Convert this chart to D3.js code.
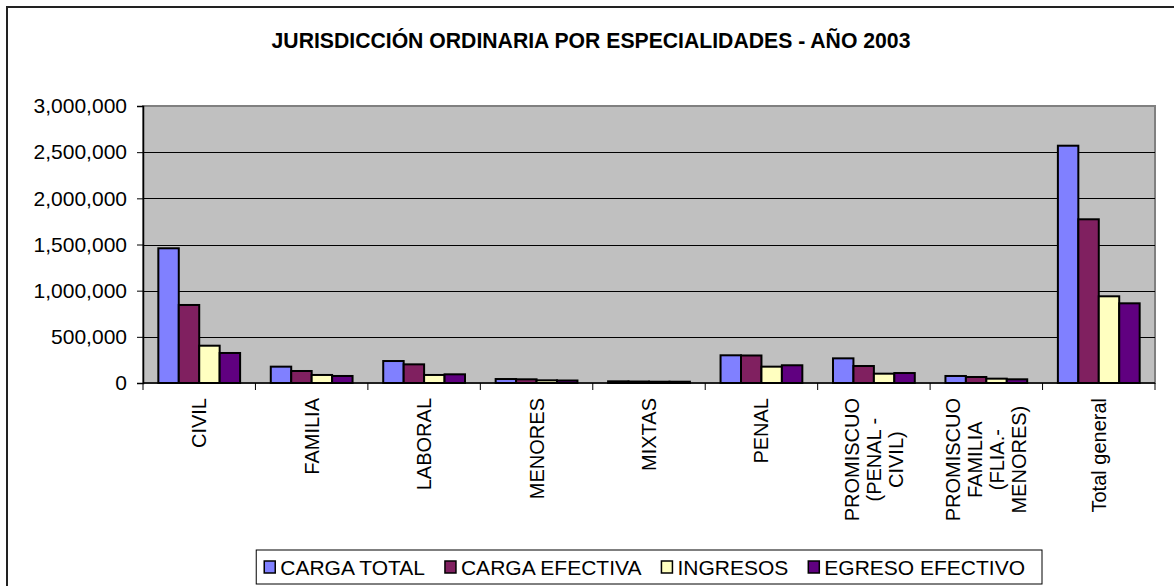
<!DOCTYPE html>
<html>
<head>
<meta charset="utf-8">
<script src="https://cdn.jsdelivr.net/npm/d3@7"></script>
<style>
  body { margin: 0; background: #fff; }
  svg { display: block; font-family: "Liberation Sans", Arial, sans-serif; }
</style>
</head>
<body>
<div id="chart"></div>
<script>
// data
const categories = ["CIVIL", "FAMILIA", "LABORAL", "MENORES", "MIXTAS", "PENAL",
  "PROMISCUO (PENAL - CIVIL)", "PROMISCUO FAMILIA (FLIA.- MENORES)", "Total general"];
const categoryLines = [["CIVIL"], ["FAMILIA"], ["LABORAL"], ["MENORES"], ["MIXTAS"], ["PENAL"],
  ["PROMISCUO", "(PENAL -", "CIVIL)"], ["PROMISCUO", "FAMILIA", "(FLIA.-", "MENORES)"], ["Total general"]];
const seriesNames = ["CARGA TOTAL", "CARGA EFECTIVA", "INGRESOS", "EGRESO EFECTIVO"];
const seriesColors = ["#8080FF", "#802060", "#FFFFC0", "#600080"];
const cargaTotal = [1459000, 177000, 238000, 43000, 18000, 300000, 267000, 76000, 2570000];
const cargaEfectiva = [845000, 130000, 202000, 40000, 16000, 298000, 184000, 65000, 1773000];
const ingresos = [404000, 87000, 87000, 29000, 14000, 177000, 101000, 47000, 939000];
const egresoEfectivo = [325000, 76000, 94000, 27000, 14000, 192000, 108000, 40000, 863000];
const yTicks = [0, 500000, 1000000, 1500000, 2000000, 2500000, 3000000];

const seriesValues = [cargaTotal, cargaEfectiva, ingresos, egresoEfectivo];

const width = 1174, height = 586;
const plot = { left: 143, right: 1155, top: 106, bottom: 383 };

const svg = d3.select("#chart").append("svg")
  .attr("width", width)
  .attr("height", height);

// outer chart frame (runs off the right and bottom edges)
svg.append("rect")
  .attr("x", 7).attr("y", 7)
  .attr("width", 1300).attr("height", 700)
  .attr("fill", "#fff")
  .attr("stroke", "#222")
  .attr("stroke-width", 2);

// title
svg.append("text")
  .attr("x", 591).attr("y", 48)
  .attr("text-anchor", "middle")
  .style("font-weight", "bold")
  .style("font-size", "21.2px")
  .text("JURISDICCIÓN ORDINARIA POR ESPECIALIDADES - AÑO 2003");

const x = d3.scaleBand()
  .domain(categories)
  .range([plot.left, plot.right]);

const x1 = d3.scaleBand()
  .domain(seriesNames)
  .range([0, x.bandwidth()])
  .paddingInner(0)
  .paddingOuter(0.75);

const y = d3.scaleLinear()
  .domain([0, 3000000])
  .range([plot.bottom, plot.top]);

// plot area
svg.append("rect")
  .attr("x", plot.left).attr("y", plot.top)
  .attr("width", plot.right - plot.left)
  .attr("height", plot.bottom - plot.top)
  .attr("fill", "#C0C0C0")
  .attr("stroke", "#808080")
  .attr("stroke-width", 2);

// gridlines
svg.append("g")
  .selectAll("line")
  .data(yTicks.filter(d => d > 0 && d < 3000000))
  .enter()
  .append("line")
  .attr("x1", plot.left).attr("x2", plot.right)
  .attr("y1", d => Math.round(y(d)) + 0.5)
  .attr("y2", d => Math.round(y(d)) + 0.5)
  .attr("stroke", "#000")
  .attr("stroke-width", 1);

// bars
const rows = categories.map((c, i) => ({ cat: c, vals: seriesValues.map(s => s[i]) }));
const groups = svg.append("g")
  .selectAll("g")
  .data(rows)
  .enter()
  .append("g")
  .attr("transform", d => "translate(" + x(d.cat) + ",0)");

groups.selectAll("rect")
  .data(d => d.vals.map((v, k) => ({ key: seriesNames[k], value: v, color: seriesColors[k] })))
  .enter()
  .append("rect")
  .attr("x", d => x1(d.key))
  .attr("y", d => y(d.value))
  .attr("width", x1.bandwidth())
  .attr("height", d => y(0) - y(d.value))
  .attr("fill", d => d.color)
  .attr("stroke", "#000")
  .attr("stroke-width", 2);

// y axis
const yAxis = d3.axisLeft(y)
  .tickValues(yTicks)
  .tickFormat(d3.format(","))
  .tickSize(6)
  .tickPadding(10);
const yg = svg.append("g")
  .attr("transform", "translate(" + plot.left + ",0)")
  .call(yAxis);
yg.select(".domain").attr("stroke", "#000").attr("stroke-width", 1.5);
yg.selectAll(".tick line").attr("stroke", "#000");
yg.selectAll(".tick text")
  .attr("fill", "#000")
  .style("font-size", "21px")
  .style("font-family", "'Liberation Sans', Arial, sans-serif");

// x axis (ticks between categories)
const xg = svg.append("g");
xg.append("line")
  .attr("x1", plot.left).attr("x2", plot.right)
  .attr("y1", plot.bottom).attr("y2", plot.bottom)
  .attr("stroke", "#000").attr("stroke-width", 1.5);
xg.selectAll(".xtick")
  .data(categories.concat([null]))
  .enter()
  .append("line")
  .attr("class", "xtick")
  .attr("x1", (d, i) => i < categories.length ? x(d) : plot.right)
  .attr("x2", (d, i) => i < categories.length ? x(d) : plot.right)
  .attr("y1", plot.bottom).attr("y2", plot.bottom + 7)
  .attr("stroke", "#000");

// rotated category labels, block top-aligned, lines centered in block
const labelTop = 398;
const lineGap = 22;
const labels = svg.append("g")
  .selectAll("g")
  .data(categories)
  .enter()
  .append("g");

labels.each(function (c, i) {
  const g = d3.select(this);
  const lines = categoryLines[i];
  const cx = x(c) + x.bandwidth() / 2;
  const texts = g.selectAll("text")
    .data(lines)
    .enter()
    .append("text")
    .style("font-size", "20px")
    .attr("text-anchor", "middle")
    .attr("dy", "0.35em")
    .text(d => d);
  const maxLen = d3.max(texts.nodes(), n => n.getComputedTextLength());
  const cy = labelTop + maxLen / 2;
  texts.attr("transform", (d, k) => {
    const lx = cx + (k - (lines.length - 1) / 2) * lineGap;
    return "translate(" + lx + "," + cy + ") rotate(-90)";
  });
});

// legend
const legend = svg.append("g");
const legendItems = legend.selectAll("g")
  .data(seriesNames)
  .enter()
  .append("g");
legendItems.append("rect")
  .attr("width", 11).attr("height", 12)
  .attr("y", -14)
  .attr("fill", (d, i) => seriesColors[i])
  .attr("stroke", "#000")
  .attr("stroke-width", 1.5);
legendItems.append("text")
  .attr("x", 16)
  .style("font-size", "21px")
  .text(d => d);

let cursor = 8;
legendItems.each(function () {
  const g = d3.select(this);
  g.attr("transform", "translate(" + cursor + ",0)");
  cursor += 16 + g.select("text").node().getComputedTextLength() + 20;
});
const legendWidth = cursor - 20 + 17;
const legendRight = 1042;
legend.attr("transform", "translate(" + (legendRight - legendWidth) + ",575)");
legend.insert("rect", ":first-child")
  .attr("x", 0).attr("y", -25)
  .attr("width", legendWidth).attr("height", 34)
  .attr("fill", "#fff")
  .attr("stroke", "#000")
  .attr("stroke-width", 1);
</script>
</body>
</html>
